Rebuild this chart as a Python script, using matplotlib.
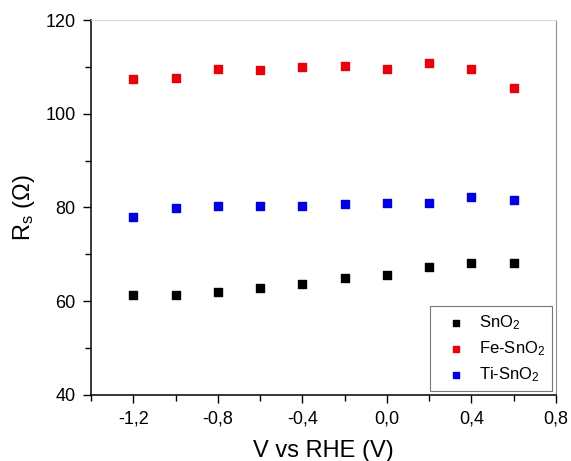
import matplotlib
matplotlib.use('Agg')
import matplotlib.pyplot as plt
from matplotlib.ticker import FuncFormatter

plt.rcParams['font.family'] = ['Liberation Sans', 'DejaVu Sans']
plt.rcParams['mathtext.default'] = 'regular'

# potential vs RHE (V)
potential = [-1.2, -1.0, -0.8, -0.6, -0.4, -0.2, 0.0, 0.2, 0.4, 0.6]
# series resistance (ohm)
rs_sno2 = [61.4, 61.3, 62.0, 62.9, 63.7, 64.9, 65.7, 67.4, 68.2, 68.2]
rs_fe = [107.4, 107.7, 109.5, 109.3, 110.0, 110.1, 109.5, 110.8, 109.5, 105.5]
rs_ti = [77.9, 79.9, 80.4, 80.3, 80.4, 80.7, 81.0, 81.0, 82.3, 81.6]

x_major = [-1.2, -0.8, -0.4, 0.0, 0.4, 0.8]
x_minor = [-1.4, -1.0, -0.6, -0.2, 0.2, 0.6]
y_major = [40, 60, 80, 100, 120]
y_minor = [50, 70, 90, 110]

fig = plt.figure(figsize=(5.71, 4.61), dpi=100)
ax = fig.add_axes([0.1594, 0.1432, 0.8143, 0.8134])

ax.scatter(potential, rs_sno2, marker='s', s=36, color='black', label='SnO$_2$')
ax.scatter(potential, rs_fe, marker='s', s=36, color='#e8000b', label='Fe-SnO$_2$')
ax.scatter(potential, rs_ti, marker='s', s=36, color='#0000e0', label='Ti-SnO$_2$')

ax.set_xlim(-1.4, 0.8)
ax.set_ylim(40, 120)
ax.set_xticks(x_major)
ax.set_xticks(x_minor, minor=True)
ax.set_yticks(y_major)
ax.set_yticks(y_minor, minor=True)
ax.xaxis.set_major_formatter(FuncFormatter(lambda v, p: ('%.1f' % v).replace('.', ',').replace('-0,0', '0,0')))

ax.tick_params(which='major', direction='out', length=6, width=1, labelsize=13, pad=5, top=False, right=False)
ax.tick_params(which='minor', direction='out', length=4, width=1, top=False, right=False)
ax.spines['left'].set_linewidth(1.1)
ax.spines['bottom'].set_linewidth(1.1)
ax.spines['top'].set_color('#d8d8d8')
ax.spines['right'].set_color('#909090')

ax.set_xlabel('V vs RHE (V)', fontsize=17, labelpad=9)
ax.set_ylabel('R$_s$ (Ω)', fontsize=17, labelpad=6)

leg = ax.legend(loc='lower right', fontsize=12, frameon=True, fancybox=False,
                edgecolor='#555555', markerscale=0.7, handlelength=2.4,
                handletextpad=0.16, borderaxespad=0.25, labelspacing=0.45)
leg.get_frame().set_linewidth(0.8)

fig.savefig('out.png', dpi=100)
